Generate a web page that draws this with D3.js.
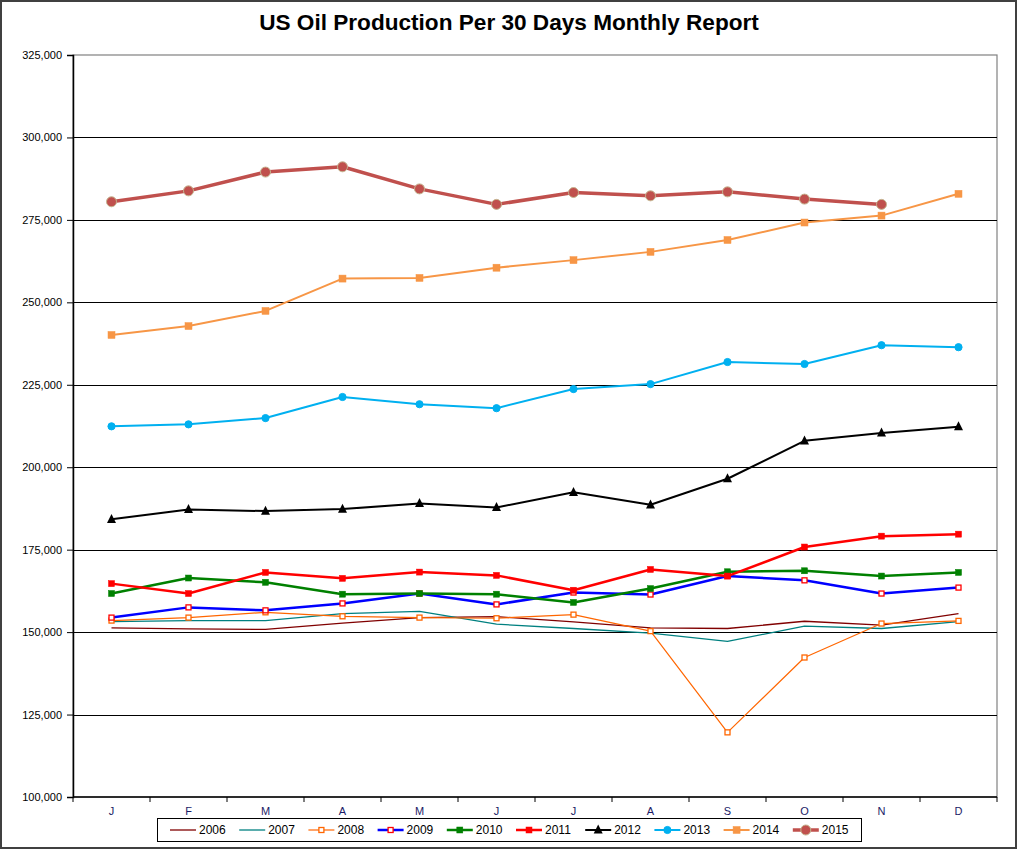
<!DOCTYPE html>
<html>
<head>
<meta charset="utf-8">
<script src="https://cdn.jsdelivr.net/npm/d3@7"></script>
<style>
  body { margin: 0; background: #fff; }
  text { font-family: "Liberation Sans", Arial, sans-serif; }
</style>
</head>
<body>
<div id="chart"></div>
<script>
// months on the category axis
var months = ['J', 'F', 'M', 'A', 'M', 'J', 'J', 'A', 'S', 'O', 'N', 'D']
var yTicks = [100000, 125000, 150000, 175000, 200000, 225000, 250000, 275000, 300000, 325000]

// barrels per 30 days (thousands kept as full numbers)
var v2006 = [151300, 151000, 150800, 152700, 154400, 154700, 153100, 151300, 151100, 153300, 152100, 155600]
var v2007 = [153200, 153500, 153500, 155600, 156300, 152400, 151100, 149700, 147200, 151800, 151100, 153200]
var v2008 = [153500, 154400, 156000, 154800, 154400, 154200, 155300, 150300, 119600, 142300, 152600, 153400]
var v2009 = [154400, 157500, 156600, 158700, 161700, 158400, 162000, 161400, 167000, 165700, 161700, 163500]
var v2010 = [161700, 166400, 165100, 161500, 161700, 161500, 159000, 163200, 168300, 168600, 167000, 168100]
var v2011 = [164700, 161700, 168100, 166300, 168200, 167200, 162700, 169000, 167000, 175800, 179100, 179700]
var v2012 = [184200, 187200, 186700, 187300, 189000, 187800, 192400, 188600, 196500, 208000, 210400, 212300]
var v2013 = [212400, 213000, 214900, 221300, 219100, 217900, 223700, 225200, 231900, 231300, 237000, 236400]
var v2014 = [240100, 242800, 247400, 257200, 257400, 260500, 262800, 265300, 268900, 274200, 276300, 282900]
var v2015 = [280500, 283800, 289500, 291100, 284400, 279700, 283300, 282300, 283500, 281300, 279700]

var years = ['2006', '2007', '2008', '2009', '2010', '2011', '2012', '2013', '2014', '2015']
var values = [v2006, v2007, v2008, v2009, v2010, v2011, v2012, v2013, v2014, v2015]

// look of each series: line colour, width, marker
var styles = {
  '2006': {stroke: '#800000', width: 1.3, marker: null},
  '2007': {stroke: '#008080', width: 1.3, marker: null},
  '2008': {stroke: '#ff6600', width: 1.2, marker: 'square', fill: '#fff', mstroke: '#ff6600', size: 5},
  '2009': {stroke: '#0000ff', width: 2.5, marker: 'square', fill: '#fff', mstroke: '#ff0000', size: 5},
  '2010': {stroke: '#008000', width: 2.5, marker: 'square', fill: '#008000', mstroke: '#008000', size: 6},
  '2011': {stroke: '#ff0000', width: 2.5, marker: 'square', fill: '#ff0000', mstroke: '#ff0000', size: 6},
  '2012': {stroke: '#000000', width: 2, marker: 'triangle', fill: '#000', mstroke: '#000', size: 9},
  '2013': {stroke: '#00b0f0', width: 2, marker: 'circle', fill: '#00b0f0', mstroke: '#00b0f0', size: 3.6},
  '2014': {stroke: '#f79646', width: 2, marker: 'square', fill: '#f79646', mstroke: '#f79646', size: 7},
  '2015': {stroke: '#c0504d', width: 3.5, marker: 'circle', fill: '#c0504d', mstroke: '#c4b48f', size: 5}
}

var W = 1018, H = 850
var plot = {left: 73, right: 997, top: 55, bottom: 797}

var svg = d3.select('#chart').append('svg')
  .attr('width', W)
  .attr('height', H)

// outer chart frame
svg.append('rect')
  .attr('x', 1).attr('y', 1)
  .attr('width', W - 3).attr('height', H - 3)
  .attr('fill', '#fff')
  .attr('stroke', '#404040')
  .attr('stroke-width', 2)

svg.append('text')
  .attr('x', 509).attr('y', 30)
  .attr('text-anchor', 'middle')
  .attr('font-size', 22.6)
  .attr('font-weight', 'bold')
  .text('US Oil Production Per 30 Days Monthly Report')

var x = d3.scaleBand()
  .domain(d3.range(months.length))
  .range([plot.left, plot.right])
  .padding(0)

var y = d3.scaleLinear()
  .domain([100000, 325000])
  .range([plot.bottom, plot.top])

var cx = i => x(i) + x.bandwidth() / 2

// plot area outline (grey on top and right)
svg.append('rect')
  .attr('x', plot.left).attr('y', plot.top)
  .attr('width', plot.right - plot.left)
  .attr('height', plot.bottom - plot.top)
  .attr('fill', 'none')
  .attr('stroke', '#808080')
  .attr('stroke-width', 1.2)

// gridlines
svg.append('g')
  .selectAll('line')
  .data(yTicks.filter(d => d > 100000 && d < 325000))
  .enter().append('line')
    .attr('x1', plot.left).attr('x2', plot.right)
    .attr('y1', d => Math.round(y(d)) + 0.5)
    .attr('y2', d => Math.round(y(d)) + 0.5)
    .attr('stroke', '#000')
    .attr('stroke-width', 1.2)

// y axis
var yAxis = d3.axisLeft(y)
  .tickValues(yTicks)
  .tickSize(6)
  .tickPadding(5)
  .tickFormat(d3.format(','))
var gy = svg.append('g')
  .attr('transform', 'translate(' + plot.left + ',0)')
  .call(yAxis)
gy.select('.domain').attr('stroke', '#000').attr('stroke-width', 1.5)
gy.selectAll('.tick line').attr('stroke', '#000')
gy.selectAll('text').attr('font-size', 11).attr('fill', '#000')
  .style('font-family', '"Liberation Sans", Arial, sans-serif')

// x axis: ticks sit on the band edges, labels in the band middle
var gx = svg.append('g')
  .attr('transform', 'translate(0,' + plot.bottom + ')')
gx.append('line')
  .attr('x1', plot.left).attr('x2', plot.right)
  .attr('stroke', '#000').attr('stroke-width', 1.5)
gx.selectAll('.edge')
  .data(d3.range(months.length + 1))
  .enter().append('line')
    .attr('class', 'edge')
    .attr('x1', i => i < months.length ? x(i) : plot.right)
    .attr('x2', i => i < months.length ? x(i) : plot.right)
    .attr('y1', 0).attr('y2', 5)
    .attr('stroke', '#000')
gx.selectAll('.lab')
  .data(months)
  .enter().append('text')
    .attr('class', 'lab')
    .attr('x', (d, i) => cx(i))
    .attr('y', 18)
    .attr('text-anchor', 'middle')
    .attr('font-size', 11)
    .attr('fill', '#1a1a66')
    .text(d => d)

function drawMarker(g, st, px, py) {
  if (st.marker === 'square') {
    g.append('rect')
      .attr('x', px - st.size / 2).attr('y', py - st.size / 2)
      .attr('width', st.size).attr('height', st.size)
      .attr('fill', st.fill).attr('stroke', st.mstroke)
      .attr('stroke-width', st.fill === '#fff' ? 1.3 : 0.5)
  } else if (st.marker === 'circle') {
    g.append('circle')
      .attr('cx', px).attr('cy', py).attr('r', st.size)
      .attr('fill', st.fill).attr('stroke', st.mstroke).attr('stroke-width', 1)
  } else if (st.marker === 'triangle') {
    var s = st.size
    g.append('path')
      .attr('d', 'M' + px + ',' + (py - s * 0.6) + 'L' + (px + s / 2) + ',' + (py + s * 0.4) + 'L' + (px - s / 2) + ',' + (py + s * 0.4) + 'Z')
      .attr('fill', st.fill)
  }
}

var line = d3.line()
  .x((d, i) => cx(i))
  .y(d => y(d))

var series = svg.append('g')
years.forEach(function(yr, k) {
  var st = styles[yr]
  var g = series.append('g')
  g.append('path')
    .attr('d', line(values[k]))
    .attr('fill', 'none')
    .attr('stroke', st.stroke)
    .attr('stroke-width', st.width)
    .attr('stroke-linejoin', 'round')
  if (st.marker) {
    values[k].forEach(function(v, i) { drawMarker(g, st, cx(i), y(v)) })
  }
})

// legend
var legend = svg.append('g')
legend.append('rect')
  .attr('x', 157.5).attr('y', 818.5)
  .attr('width', 704).attr('height', 23)
  .attr('fill', '#fff').attr('stroke', '#000').attr('stroke-width', 1)

years.forEach(function(yr, k) {
  var st = styles[yr]
  var lx = 170 + k * 69.2
  var ly = 830
  var g = legend.append('g')
  g.append('line')
    .attr('x1', lx).attr('x2', lx + 26)
    .attr('y1', ly).attr('y2', ly)
    .attr('stroke', st.stroke).attr('stroke-width', st.width)
  if (st.marker) drawMarker(g, st, lx + 13, ly)
  g.append('text')
    .attr('x', lx + 29).attr('y', ly + 4)
    .attr('font-size', 12)
    .attr('fill', '#000')
    .text(yr)
})
</script>
</body>
</html>
